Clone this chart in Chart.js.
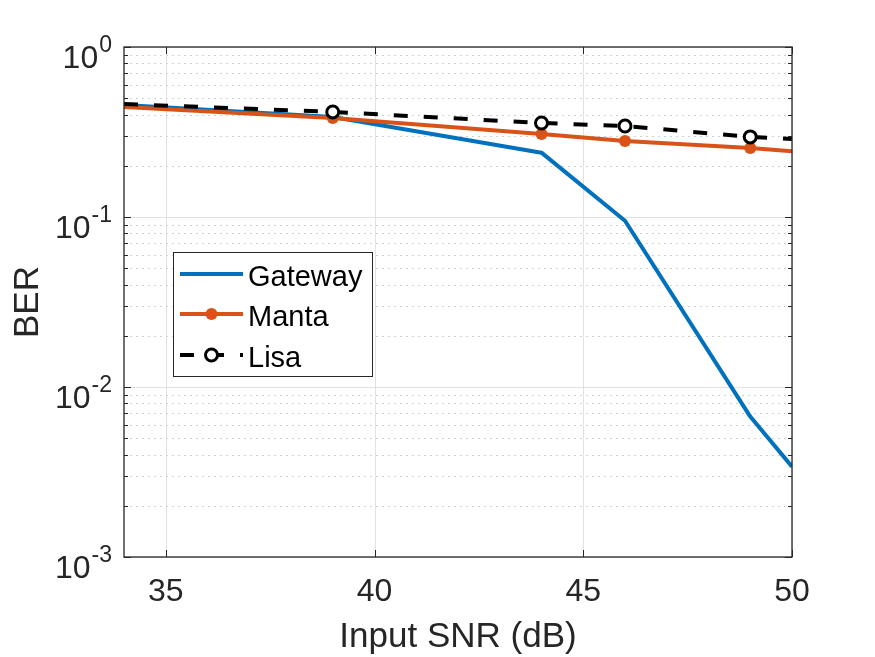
<!DOCTYPE html>
<html>
<head>
<meta charset="utf-8">
<script src="https://cdn.jsdelivr.net/npm/chart.js@4.4.1/dist/chart.umd.min.js"></script>
<style>
  html, body { margin: 0; padding: 0; background: #fff; }
  canvas { display: block; }
</style>
</head>
<body>
<canvas id="chart" width="875" height="657"></canvas>
<script>
// values
const snr = [34, 39, 44, 46, 49, 50]
const gatewayBer = [0.456, 0.387, 0.239, 0.0951, 0.0067, 0.0034]
const mantaBer = [0.444, 0.382, 0.308, 0.28, 0.255, 0.244]
const lisaBer = [0.462, 0.415, 0.357, 0.343, 0.296, 0.288]
const markerSizes = [0, 6, 6, 6, 6, 0]

const xTicks = [35, 40, 45, 50]
const yExponents = [-3, -2, -1, 0]
const seriesNames = ['Gateway', 'Manta', 'Lisa']

const FONT = '"Liberation Sans", Arial, Helvetica, sans-serif'
const TEXT = '#262626'
const BLUE = '#0072BD'
const ORANGE = '#D95319'

const toPoints = ys => snr.map((x, i) => ({ x, y: ys[i] }))

const seg = (ctx, x1, y1, x2, y2) => {
  ctx.beginPath()
  ctx.moveTo(x1, y1)
  ctx.lineTo(x2, y2)
  ctx.stroke()
}

const axesPlugin = {
  id: 'matlabAxes',
  beforeDatasetsDraw(chart) {
    const { ctx, chartArea: a, scales: { x, y } } = chart
    ctx.save()
    ctx.lineWidth = 1
    // minor grid (dotted)
    ctx.strokeStyle = '#cfcfcf'
    ctx.setLineDash([2, 4])
    yExponents.slice(0, -1).forEach(e => {
      for (let m = 2; m <= 9; m++) {
        const py = Math.round(y.getPixelForValue(m * Math.pow(10, e))) + 0.5
        seg(ctx, a.left, py, a.right, py)
      }
    })
    // major grid
    ctx.setLineDash([])
    ctx.strokeStyle = '#e2e2e2'
    xTicks.forEach(t => {
      const px = Math.round(x.getPixelForValue(t)) + 0.5
      seg(ctx, px, a.top, px, a.bottom)
    })
    yExponents.forEach(e => {
      const py = Math.round(y.getPixelForValue(Math.pow(10, e))) + 0.5
      seg(ctx, a.left, py, a.right, py)
    })
    ctx.restore()
  },
  afterDatasetsDraw(chart) {
    const { ctx, chartArea: a, scales: { x, y } } = chart
    ctx.save()
    ctx.strokeStyle = TEXT
    ctx.lineWidth = 1.3
    ctx.strokeRect(a.left, a.top, a.right - a.left, a.bottom - a.top)
    // tick marks, inward on all four sides
    ctx.lineWidth = 1
    xTicks.forEach(t => {
      const px = Math.round(x.getPixelForValue(t)) + 0.5
      seg(ctx, px, a.bottom, px, a.bottom - 7)
      seg(ctx, px, a.top, px, a.top + 7)
    })
    yExponents.forEach(e => {
      const py = Math.round(y.getPixelForValue(Math.pow(10, e))) + 0.5
      seg(ctx, a.left, py, a.left + 7, py)
      seg(ctx, a.right, py, a.right - 7, py)
      if (e === 0) return
      for (let m = 2; m <= 9; m++) {
        const pm = Math.round(y.getPixelForValue(m * Math.pow(10, e))) + 0.5
        seg(ctx, a.left, pm, a.left + 4, pm)
        seg(ctx, a.right, pm, a.right - 4, pm)
      }
    })
    // tick labels
    ctx.fillStyle = TEXT
    ctx.textBaseline = 'alphabetic'
    ctx.font = '32px ' + FONT
    ctx.textAlign = 'center'
    xTicks.forEach(t => ctx.fillText(String(t), x.getPixelForValue(t), a.bottom + 44))
    ctx.textAlign = 'right'
    yExponents.forEach(e => {
      const py = y.getPixelForValue(Math.pow(10, e))
      const sup = String(e)
      ctx.font = '23px ' + FONT
      const w = ctx.measureText(sup).width
      ctx.fillText(sup, a.left - 12, py + 5)
      ctx.font = '32px ' + FONT
      ctx.fillText('10', a.left - 13 - w, py + 21)
    })
    // axis titles
    ctx.font = '35px ' + FONT
    ctx.textAlign = 'center'
    ctx.fillText('Input SNR (dB)', (a.left + a.right) / 2, a.bottom + 90)
    ctx.save()
    ctx.translate(38, (a.top + a.bottom) / 2)
    ctx.rotate(-Math.PI / 2)
    ctx.fillText('BER', 0, 0)
    ctx.restore()
    ctx.restore()
  },
  afterDraw(chart) {
    const { ctx } = chart
    ctx.save()
    ctx.fillStyle = '#fff'
    ctx.fillRect(173, 252, 199, 124)
    ctx.strokeStyle = TEXT
    ctx.lineWidth = 1
    ctx.strokeRect(173.5, 252.5, 199, 124)
    const rows = [274, 314, 355]
    const x1 = 180, x2 = 243, xm = (x1 + x2) / 2
    ctx.lineWidth = 4
    ctx.strokeStyle = BLUE
    seg(ctx, x1, rows[0], x2, rows[0])
    ctx.strokeStyle = ORANGE
    seg(ctx, x1, rows[1], x2, rows[1])
    ctx.fillStyle = ORANGE
    ctx.beginPath()
    ctx.arc(xm, rows[1], 6, 0, Math.PI * 2)
    ctx.fill()
    ctx.strokeStyle = '#000'
    ctx.setLineDash([14, 16])
    seg(ctx, x1, rows[2], x2, rows[2])
    ctx.setLineDash([])
    ctx.lineWidth = 3
    ctx.fillStyle = '#fff'
    ctx.beginPath()
    ctx.arc(xm, rows[2], 6, 0, Math.PI * 2)
    ctx.fill()
    ctx.stroke()
    ctx.fillStyle = '#000'
    ctx.font = '29px ' + FONT
    ctx.textAlign = 'left'
    ctx.textBaseline = 'alphabetic'
    seriesNames.forEach((n, i) => ctx.fillText(n, 248, rows[i] + 11.5))
    ctx.restore()
  },
}

new Chart(document.getElementById('chart'), {
  type: 'line',
  data: {
    datasets: [
      {
        label: seriesNames[0],
        data: toPoints(gatewayBer),
        borderColor: BLUE,
        borderWidth: 4,
        pointRadius: 0,
        order: 3,
      },
      {
        label: seriesNames[1],
        data: toPoints(mantaBer),
        borderColor: ORANGE,
        backgroundColor: ORANGE,
        borderWidth: 4,
        pointRadius: markerSizes,
        pointBorderWidth: 0,
        pointBackgroundColor: ORANGE,
        order: 2,
      },
      {
        label: seriesNames[2],
        data: toPoints(lisaBer),
        borderColor: '#000',
        borderWidth: 4,
        borderDash: [14, 16],
        pointRadius: markerSizes,
        pointBorderWidth: 3,
        pointBorderColor: '#000',
        pointBackgroundColor: '#fff',
        order: 1,
      },
    ],
  },
  options: {
    responsive: false,
    animation: false,
    borderJoinStyle: 'round',
    layout: { padding: { left: 124, top: 47, right: 83, bottom: 100 } },
    elements: { line: { tension: 0, borderJoinStyle: 'round' } },
    plugins: { legend: { display: false }, tooltip: { enabled: false } },
    scales: {
      x: { type: 'linear', min: 34, max: 50, display: false },
      y: { type: 'logarithmic', min: 0.001, max: 1, display: false },
    },
  },
  plugins: [axesPlugin],
})
</script>
</body>
</html>
